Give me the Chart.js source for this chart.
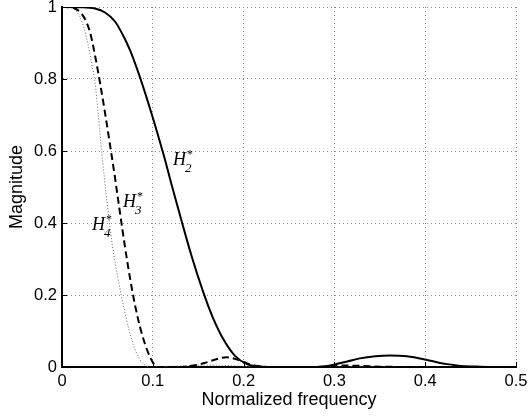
<!DOCTYPE html>
<html>
<head>
<meta charset="utf-8">
<script src="https://cdn.jsdelivr.net/npm/chart.js@4/dist/chart.umd.min.js"></script>
<style>
  html, body { margin: 0; padding: 0; background: #fff; }
  #wrap { width: 529px; height: 416px; position: relative; }
</style>
</head>
<body>
<div id="wrap"><canvas id="c" width="529" height="416"></canvas></div>
<script>
// ---- data ----
const h2X = [0, 0.0198, 0.0363, 0.0474, 0.0584, 0.0672, 0.0749, 0.0859, 0.0991, 0.1123, 0.1211, 0.1311, 0.1432, 0.1553, 0.1652, 0.1784, 0.1905, 0.2037, 0.218, 0.2346, 0.26, 0.285, 0.30, 0.315, 0.328, 0.345, 0.361, 0.38, 0.40, 0.415, 0.424, 0.44, 0.46, 0.5];
const h2Y = [1, 0.9994, 0.9958, 0.9847, 0.9597, 0.9214, 0.880, 0.8044, 0.700, 0.586, 0.503, 0.411, 0.304, 0.210, 0.143, 0.074, 0.031, 0.008, 0.0014, 0, 0, 0.001, 0.007, 0.016, 0.024, 0.030, 0.032, 0.030, 0.021, 0.012, 0.008, 0.003, 0.001, 0];

const h3X = [0, 0.0088, 0.0143, 0.0198, 0.0253, 0.0308, 0.0363, 0.0419, 0.0474, 0.0529, 0.0584, 0.0639, 0.0694, 0.0749, 0.0804, 0.0859, 0.0914, 0.0969, 0.1013, 0.1057, 0.12, 0.135, 0.145, 0.157, 0.168, 0.181, 0.193, 0.204, 0.215, 0.23, 0.27, 0.29, 0.31, 0.33, 0.35, 0.4, 0.5];
const h3Y = [1, 0.9992, 0.9958, 0.9861, 0.9667, 0.9306, 0.8667, 0.7889, 0.7056, 0.6167, 0.525, 0.4278, 0.3333, 0.2472, 0.1722, 0.1111, 0.0639, 0.0278, 0.0083, 0, 0, 0.001, 0.004, 0.011, 0.020, 0.027, 0.021, 0.010, 0.003, 0, 0, 0.001, 0.004, 0.003, 0.001, 0, 0];

const h4X = [0, 0.0066, 0.0110, 0.0154, 0.0198, 0.0242, 0.0286, 0.0330, 0.0363, 0.0396, 0.0429, 0.0463, 0.0496, 0.0529, 0.0562, 0.0606, 0.0650, 0.0694, 0.0738, 0.0782, 0.0826, 0.0870, 0.0914, 0.0969, 0.11, 0.13, 0.15, 0.17, 0.19, 0.21, 0.23, 0.3, 0.32, 0.35, 0.5];
const h4Y = [1, 0.9994, 0.9972, 0.9889, 0.9722, 0.9417, 0.8972, 0.8389, 0.7917, 0.7111, 0.6194, 0.5333, 0.4583, 0.3861, 0.325, 0.2611, 0.2028, 0.15, 0.1028, 0.0639, 0.0361, 0.0167, 0.0056, 0, 0.001, 0.003, 0.005, 0.005, 0.003, 0.001, 0, 0, 0.002, 0, 0];

const xTickValues = [0, 0.1, 0.2, 0.3, 0.4, 0.5];
const xTickLabels = ['0', '0.1', '0.2', '0.3', '0.4', '0.5'];
const yTickValues = [0, 0.2, 0.4, 0.6, 0.8, 1];
const yTickLabels = ['0', '0.2', '0.4', '0.6', '0.8', '1'];

const xTitle = 'Normalized frequency';
const yTitle = 'Magnitude';

// curve annotations (anchor in data units)
const curveLabels = [
  { sub: '2', x: 0.1222, y: 0.561 },
  { sub: '3', x: 0.0672, y: 0.444 },
  { sub: '4', x: 0.0330, y: 0.381 }
];

// ---- build ----
const toPts = (xs, ys) => xs.map((x, i) => ({ x: x, y: ys[i] }));

const inwardTicks = {
  id: 'inwardTicks',
  afterDatasetsDraw(chart) {
    const ctx = chart.ctx, xs = chart.scales.x, ys = chart.scales.y, a = chart.chartArea;
    ctx.save();
    ctx.strokeStyle = '#000';
    ctx.lineWidth = 1;
    ctx.beginPath();
    xTickValues.forEach(v => {
      const p = Math.round(xs.getPixelForValue(v)) + 0.5;
      ctx.moveTo(p, a.bottom); ctx.lineTo(p, a.bottom - 5);
    });
    yTickValues.forEach(v => {
      const p = Math.round(ys.getPixelForValue(v)) + 0.5;
      ctx.moveTo(a.left, p); ctx.lineTo(a.left + 5, p);
    });
    ctx.stroke();
    ctx.restore();
  }
};

const hLabels = {
  id: 'hLabels',
  afterDatasetsDraw(chart) {
    const ctx = chart.ctx, xs = chart.scales.x, ys = chart.scales.y;
    ctx.save();
    ctx.fillStyle = '#000';
    ctx.textBaseline = 'alphabetic';
    ctx.textAlign = 'left';
    curveLabels.forEach(l => {
      const px = xs.getPixelForValue(l.x), py = ys.getPixelForValue(l.y);
      ctx.font = 'italic 18px "Liberation Serif"';
      ctx.fillText('H', px, py);
      const w = ctx.measureText('H').width;
      ctx.font = 'italic 13px "Liberation Serif"';
      ctx.fillText(l.sub, px + w - 1, py + 7);
      ctx.font = '12px "Liberation Serif"';
      ctx.fillText('*', px + w + 1, py - 7);
    });
    ctx.restore();
  }
};

const noPad = s => { s.paddingLeft = 0; s.paddingRight = 0; s.paddingTop = 0; s.paddingBottom = 0; };
const gridCfg = { color: '#888', lineWidth: 1, drawTicks: false };
const borderCfg = { display: true, color: '#000', width: 2, dash: [1, 3] };
const tickFont = { family: '"Liberation Sans", Arial', size: 16.5 };
const titleFont = { family: '"Liberation Sans", Arial', size: 18 };

new Chart(document.getElementById('c'), {
  type: 'line',
  data: {
    datasets: [
      { label: 'H2', data: toPts(h2X, h2Y), borderColor: '#000', borderWidth: 2, pointRadius: 0, cubicInterpolationMode: 'monotone', fill: false },
      { label: 'H3', data: toPts(h3X, h3Y), borderColor: '#000', borderWidth: 2, borderDash: [7, 4], pointRadius: 0, cubicInterpolationMode: 'monotone', fill: false },
      { label: 'H4', data: toPts(h4X, h4Y), borderColor: '#666', borderWidth: 1, borderDash: [1, 2], pointRadius: 0, cubicInterpolationMode: 'monotone', fill: false }
    ]
  },
  options: {
    responsive: false,
    animation: false,
    devicePixelRatio: 1,
    layout: { padding: { top: 7, right: 13, left: 0, bottom: 0 } },
    plugins: { legend: { display: false }, tooltip: { enabled: false } },
    scales: {
      x: {
        type: 'linear', min: 0, max: 0.5,
        afterFit(s) { s.height = 49; noPad(s); },
        afterBuildTicks(s) { s.ticks = xTickValues.map(v => ({ value: v })); },
        ticks: { color: '#000', padding: 5, maxRotation: 0, font: tickFont, callback: (v, i) => xTickLabels[i] },
        grid: Object.assign({}, gridCfg),
        border: Object.assign({}, borderCfg),
        title: { display: true, text: xTitle, color: '#000', font: titleFont, padding: { top: 0, bottom: 5.5 } }
      },
      y: {
        type: 'linear', min: 0, max: 1,
        afterFit(s) { s.width = 62; noPad(s); },
        afterBuildTicks(s) { s.ticks = yTickValues.map(v => ({ value: v })); },
        ticks: { color: '#000', padding: 5, font: tickFont, callback: (v, i) => yTickLabels[i] },
        grid: Object.assign({}, gridCfg),
        border: Object.assign({}, borderCfg),
        title: { display: true, text: yTitle, color: '#000', font: titleFont, padding: { top: 6.5, bottom: 0 } }
      }
    }
  },
  plugins: [inwardTicks, hLabels]
});
</script>
</body>
</html>
